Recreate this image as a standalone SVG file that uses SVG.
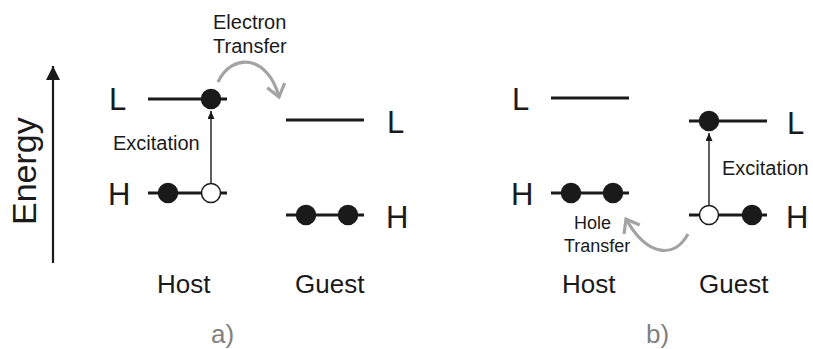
<svg xmlns="http://www.w3.org/2000/svg" width="813" height="349" viewBox="0 0 813 349">
<style>
text{font-family:"Liberation Sans",Arial,sans-serif;fill:#1a1a1a}
.lvl{stroke:#1a1a1a;stroke-width:3;fill:none}
.e{fill:#1a1a1a;stroke:#1a1a1a;stroke-width:1.5}
.h{fill:#fff;stroke:#1a1a1a;stroke-width:1.5}
.lab{font-size:31px}
.big{font-size:26px}
.sm{font-size:20px}
.xs{font-size:18px}
.panel{font-size:26px;fill:#808080}
.exc{stroke:#1a1a1a;stroke-width:1.4;fill:none;marker-end:url(#tri)}
.tr{stroke:#a3a3a3;stroke-width:3.2;fill:none;marker-end:url(#chev)}
</style>
<defs>
<marker id="tri" markerUnits="userSpaceOnUse" markerWidth="10" markerHeight="10" refX="8" refY="3.5" orient="auto">
<path d="M0,0 L8,3.5 L0,7 Z" fill="#1a1a1a"/>
</marker>
<marker id="chev" markerUnits="userSpaceOnUse" markerWidth="20" markerHeight="24" refX="14" refY="11" orient="auto">
<path d="M2,2 L14,11 L2,20" fill="none" stroke="#a3a3a3" stroke-width="3.2" stroke-linejoin="miter"/>
</marker>
<marker id="axhead" markerUnits="userSpaceOnUse" markerWidth="16" markerHeight="16" refX="14" refY="7" orient="auto">
<path d="M0,0 L14,7 L0,14 Z" fill="#1a1a1a"/>
</marker>
</defs>
<rect width="813" height="349" fill="#fff"/>

<g id="energy-axis">
<line x1="53" y1="263" x2="53" y2="66" stroke="#1a1a1a" stroke-width="2.2" marker-end="url(#axhead)"/>
<text transform="translate(36,225) rotate(-90)" font-size="34">Energy</text>
</g>

<g id="a-host-L">
<text class="lab" x="109" y="110">L</text>
<line class="lvl" x1="148" y1="99" x2="227" y2="99"/>
<circle class="e" cx="211" cy="99" r="9.5"/>
</g>
<g id="a-host-H">
<text class="lab" x="108" y="205">H</text>
<line class="lvl" x1="148" y1="193" x2="227" y2="193"/>
<circle class="e" cx="168" cy="193" r="9.5"/>
<circle class="h" cx="211" cy="193" r="9.5"/>
</g>
<g id="a-guest-L">
<line class="lvl" x1="286" y1="120" x2="364" y2="120"/>
<text class="lab" x="387" y="133">L</text>
</g>
<g id="a-guest-H">
<line class="lvl" x1="286" y1="215" x2="364" y2="215"/>
<circle class="e" cx="306" cy="215" r="9.5"/>
<circle class="e" cx="348" cy="215" r="9.5"/>
<text class="lab" x="386" y="228">H</text>
</g>
<g id="a-labels">
<text class="sm" x="113" y="150">Excitation</text>
<text class="sm" x="213" y="29">Electron</text>
<text class="sm" x="213" y="53">Transfer</text>
<text class="big" x="157" y="293">Host</text>
<text class="big" x="295" y="293">Guest</text>
<text class="panel" x="211" y="343">a)</text>
</g>

<g id="b-host-L">
<text class="lab" x="512" y="110">L</text>
<line class="lvl" x1="551" y1="98" x2="629" y2="98"/>
</g>
<g id="b-host-H">
<text class="lab" x="511" y="205">H</text>
<line class="lvl" x1="551" y1="193" x2="629" y2="193"/>
<circle class="e" cx="571" cy="193" r="9.5"/>
<circle class="e" cx="613" cy="193" r="9.5"/>
</g>
<g id="b-guest-L">
<line class="lvl" x1="689" y1="121" x2="767" y2="121"/>
<circle class="e" cx="709" cy="121" r="9.5"/>
<text class="lab" x="787" y="134">L</text>
</g>
<g id="b-guest-H">
<line class="lvl" x1="689" y1="215" x2="767" y2="215"/>
<circle class="h" cx="709" cy="215" r="9.5"/>
<circle class="e" cx="752" cy="215" r="9.5"/>
<text class="lab" x="786" y="228">H</text>
</g>
<g id="b-labels">
<text class="sm" x="722" y="175">Excitation</text>
<text class="xs" x="574" y="229">Hole</text>
<text class="xs" x="564" y="252">Transfer</text>
<text class="big" x="562" y="293">Host</text>
<text class="big" x="699" y="293">Guest</text>
<text class="panel" x="646" y="343">b)</text>
</g>

<g id="connectors">
<line class="exc" x1="211" y1="183" x2="211" y2="111"/>
<line class="exc" x1="709" y1="205" x2="709" y2="133"/>
<path class="tr" d="M218,82 C232,52 268,55 279,97"/>
<path class="tr" d="M688,234 C675,258 648,258 626,219"/>
</g>
</svg>
